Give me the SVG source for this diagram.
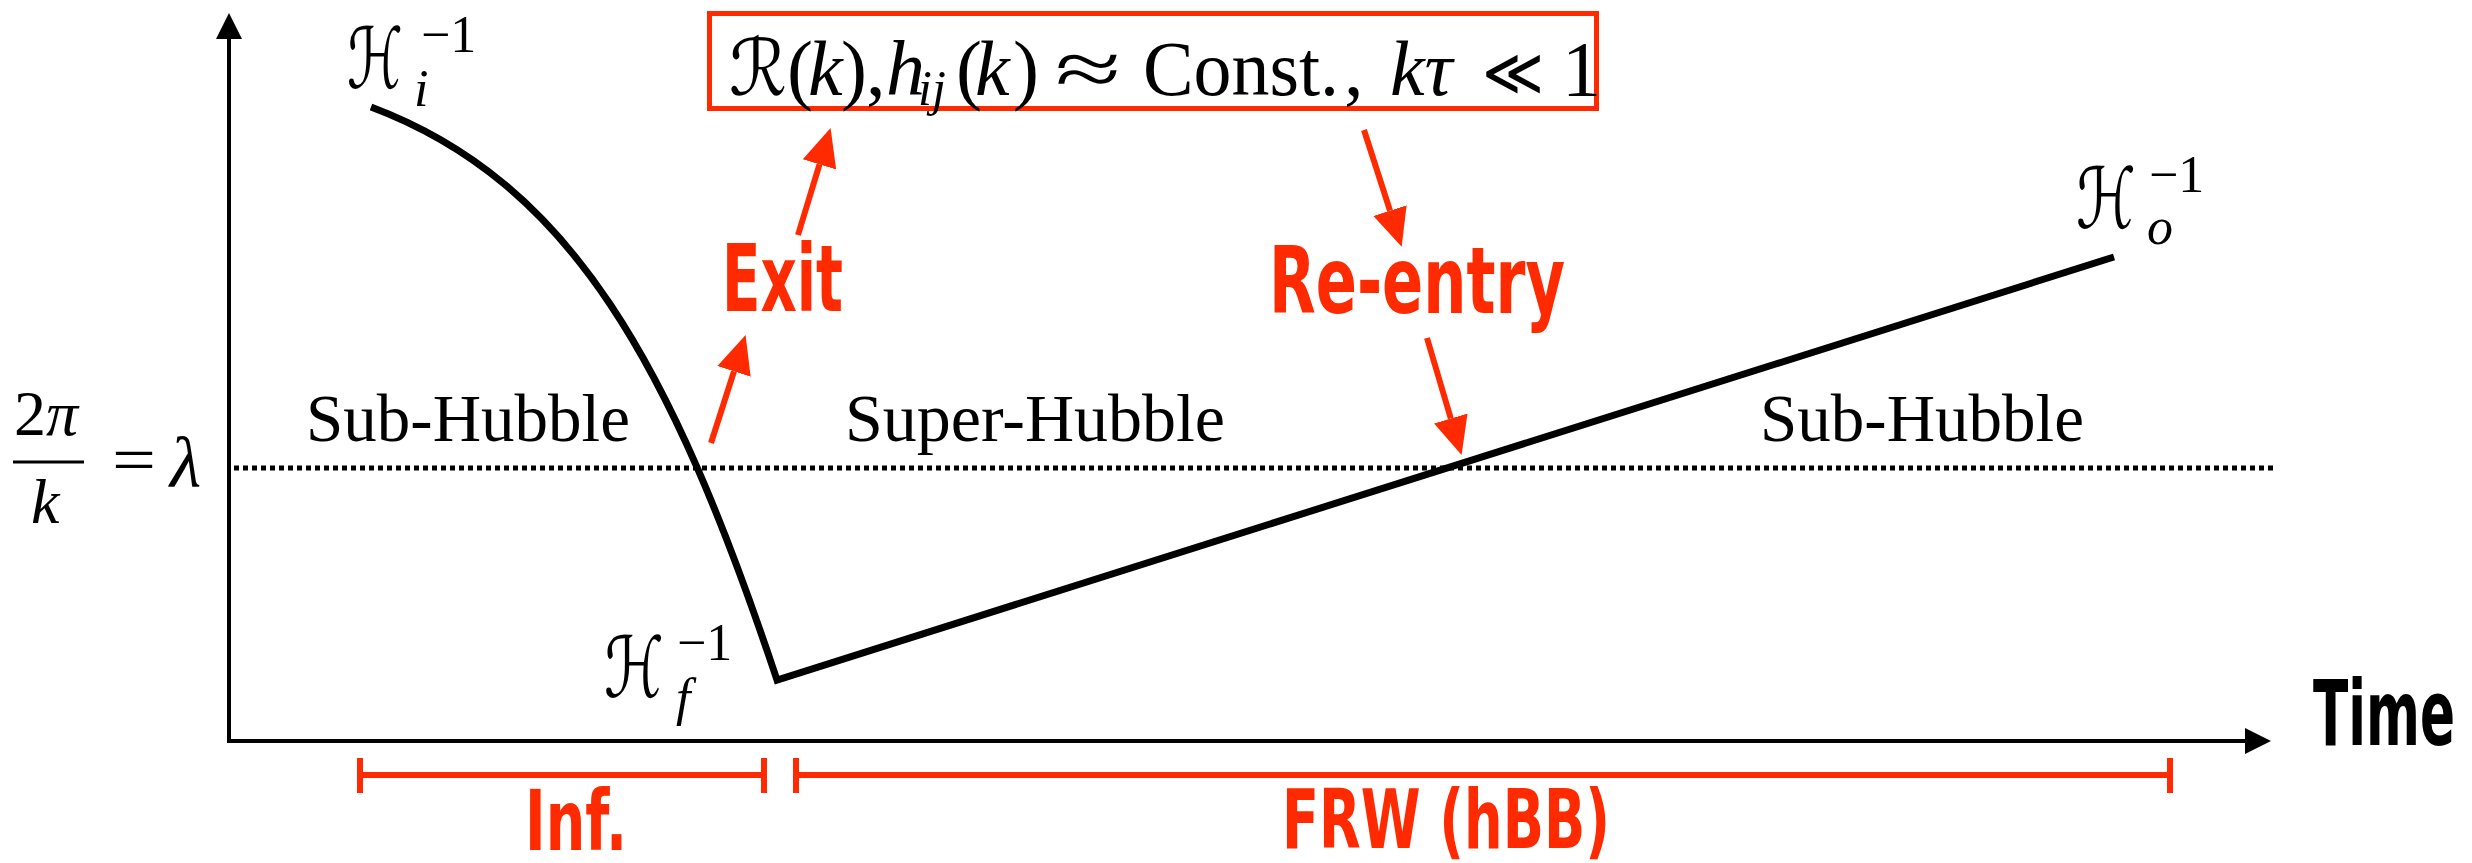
<svg xmlns="http://www.w3.org/2000/svg" width="2472" height="863" viewBox="0 0 2472 863">
<style>
.serif{font-family:"Liberation Serif","DejaVu Serif",serif;fill:#000}
.it{font-style:italic}
.script{font-family:"DejaVu Sans","DejaVu Serif",sans-serif;fill:#000}
.math{font-family:"DejaVu Sans","DejaVu Serif",sans-serif;font-weight:200;fill:#000}
.hand{font-family:"Liberation Sans Narrow","DejaVu Sans Condensed","Liberation Sans",sans-serif;font-weight:bold}
.red{fill:#ff2a00}
.axis{stroke:#000;stroke-width:4;fill:none}
.curve{stroke:#000;stroke-width:7;fill:none;stroke-linejoin:miter}
.rarrow{stroke:#ff2a00;stroke-width:6;fill:none}
.brk{stroke:#ff2a00;stroke-width:6;fill:none}
</style>
<defs>
<marker id="redhead" markerUnits="userSpaceOnUse" orient="auto" markerWidth="38" markerHeight="36" viewBox="0 -17 37 34" refX="0" refY="0">
<path d="M0,-17 L37,0 L0,17 Z" fill="#ff2a00"/>
</marker>
</defs>

<g id="axes">
<line class="axis" x1="229" y1="36" x2="229" y2="741"/>
<polygon points="229,13 216,39 242,39" fill="#000"/>
<line class="axis" x1="227" y1="741" x2="2248" y2="741"/>
<polygon points="2271,741 2245,728 2245,754" fill="#000"/>
<text class="hand" x="2313" y="745" font-size="90" textLength="142" lengthAdjust="spacingAndGlyphs" fill="#000">Time</text>
</g>

<g id="wavelength">
<line x1="234" y1="468" x2="2276" y2="468" stroke="#000" stroke-width="5" stroke-dasharray="5 4"/>
<text class="serif" x="14" y="435" font-size="64">2<tspan class="it">π</tspan></text>
<line x1="13" y1="462" x2="84" y2="462" stroke="#000" stroke-width="3"/>
<text class="serif it" x="31" y="523" font-size="64">k</text>
<text class="serif" x="112" y="482" font-size="66" textLength="44" lengthAdjust="spacingAndGlyphs">=</text>
<text class="serif it" x="170" y="487" font-size="72">λ</text>
</g>

<g id="hubble-radius">
<path class="curve" d="M371,107 C571,182 672,365 777,680 L2114,257"/>
</g>

<g id="label-Hi">
<text class="script" x="347" y="88" font-size="84" textLength="56" lengthAdjust="spacingAndGlyphs">ℋ</text>
<text class="serif" x="421" y="52" font-size="52">−1</text>
<text class="serif it" x="414" y="106" font-size="52">i</text>
</g>
<g id="label-Hf">
<text class="script" x="604" y="697" font-size="84" textLength="60" lengthAdjust="spacingAndGlyphs">ℋ</text>
<text class="serif" x="677" y="660" font-size="52">−1</text>
<text class="serif it" x="676" y="715" font-size="52">f</text>
</g>
<g id="label-Ho">
<text class="script" x="2076" y="228" font-size="84" textLength="60" lengthAdjust="spacingAndGlyphs">ℋ</text>
<text class="serif" x="2149" y="192" font-size="52">−1</text>
<text class="serif it" x="2147" y="244" font-size="52">o</text>
</g>

<g id="region-labels">
<text class="serif" x="306" y="441" font-size="68" textLength="324" lengthAdjust="spacingAndGlyphs">Sub-Hubble</text>
<text class="serif" x="845" y="441" font-size="68" textLength="380" lengthAdjust="spacingAndGlyphs">Super-Hubble</text>
<text class="serif" x="1760" y="441" font-size="68" textLength="324" lengthAdjust="spacingAndGlyphs">Sub-Hubble</text>
</g>

<g id="const-box">
<rect x="709.5" y="13.5" width="887" height="95" fill="#fff" stroke="#ff2a00" stroke-width="5"/>
<text class="serif" y="95" font-size="78"><tspan class="script" x="729" font-size="78" textLength="58" lengthAdjust="spacingAndGlyphs">ℛ</tspan><tspan x="787">(</tspan><tspan class="it" x="808">k</tspan><tspan x="841">)</tspan><tspan x="866">,</tspan><tspan class="it" x="886">h</tspan><tspan class="it" x="918" y="105" font-size="50">ij</tspan><tspan x="956" y="95">(</tspan><tspan class="it" x="975">k</tspan><tspan x="1013">)</tspan><tspan x="1055" textLength="66" lengthAdjust="spacingAndGlyphs">≈</tspan><tspan x="1143" textLength="196" lengthAdjust="spacingAndGlyphs">Const.</tspan><tspan x="1344">,</tspan><tspan class="it" x="1390">kτ</tspan><tspan class="math" x="1482" font-size="66" textLength="62" lengthAdjust="spacingAndGlyphs">≪</tspan><tspan x="1562">1</tspan></text>
</g>

<g id="label-exit">
<text class="hand red" x="722" y="311" font-size="92" textLength="121" lengthAdjust="spacingAndGlyphs">Exit</text>
</g>
<g id="label-reentry">
<text class="hand red" x="1269" y="313" font-size="92" textLength="296" lengthAdjust="spacingAndGlyphs">Re-entry</text>
</g>

<g id="connectors">
<line class="rarrow" x1="711" y1="443" x2="734" y2="371.3" marker-end="url(#redhead)"/>
<line class="rarrow" x1="798" y1="235" x2="819.5" y2="164.4" marker-end="url(#redhead)"/>
<line class="rarrow" x1="1364" y1="130" x2="1390" y2="210.7" marker-end="url(#redhead)"/>
<line class="rarrow" x1="1427" y1="338" x2="1450.8" y2="418.5" marker-end="url(#redhead)"/>
</g>

<g id="bracket-inf">
<path class="brk" d="M360,775 H764 M360,758 V793 M764,758 V793"/>
<text class="hand red" x="525" y="850" font-size="84" textLength="102" lengthAdjust="spacingAndGlyphs">Inf.</text>
</g>
<g id="bracket-frw">
<path class="brk" d="M796,775 H2170 M796,758 V793 M2170,758 V793"/>
<text class="hand red" x="1282" y="848" font-size="82" textLength="328" lengthAdjust="spacingAndGlyphs">FRW (hBB)</text>
</g>
</svg>
